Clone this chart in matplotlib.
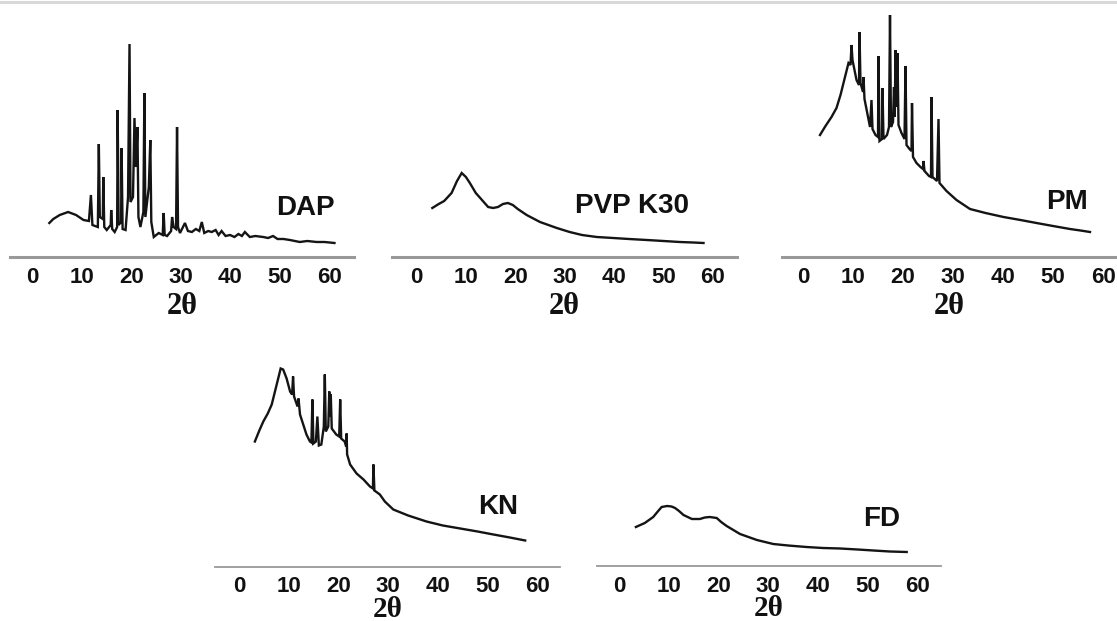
import matplotlib
matplotlib.use("Agg")
import matplotlib.pyplot as plt
from matplotlib.lines import Line2D

# ---------------- data (2θ in degrees, intensity in arbitrary units) ----------------
dap_2theta = [3.4, 4.2, 5.5, 7.2, 8.8, 10.3, 11.4, 11.8, 12.1, 13.2, 13.4, 13.6, 14.2, 14.3, 14.5,
              15.0, 15.8, 15.9, 16.1, 16.6, 17.1, 17.2, 17.4, 17.9, 18.0, 18.2, 18.8, 19.3, 19.6,
              19.8, 20.3, 20.6, 20.9, 21.2, 21.4, 21.8, 22.4, 22.6, 22.8, 23.5, 23.8, 24.0, 24.5,
              25.5, 26.3, 26.5, 26.7, 27.2, 28.0, 28.2, 28.5, 29.0, 29.2, 29.4, 29.8, 30.4, 30.8,
              31.4, 32.2, 33.0, 33.7, 34.2, 34.7, 35.5, 36.2, 37.0, 37.6, 38.2, 39.0, 39.9, 40.8,
              41.6, 42.3, 42.9, 43.9, 45.0, 46.6, 47.6, 48.6, 49.5, 50.7, 52.0, 54.0, 55.5, 57.4,
              59.0, 61.0]
dap_intensity = [34, 38, 42, 45, 42, 37, 36, 62, 32, 30, 113, 40, 38, 80, 30,
                 27, 32, 47, 28, 25, 30, 147, 32, 35, 109, 28, 27, 60, 213,
                 55, 60, 139, 90, 130, 40, 30, 45, 164, 40, 70, 117, 35, 20,
                 24, 22, 44, 22, 21, 26, 40, 30, 28, 130, 30, 24, 30, 34,
                 26, 25, 28, 26, 35, 24, 26, 25, 27, 22, 26, 21, 22, 20,
                 23, 21, 25, 20, 21, 20, 19, 21, 18, 18, 17, 15, 16, 15,
                 15, 14]

pvp_2theta = [3.2, 4.5, 5.6, 7.1, 8.2, 9.15, 10.0, 10.8, 12.0, 12.9, 14.5, 15.5, 16.5, 17.5, 18.5,
              19.5, 20.5, 22.3, 25.0, 28.4, 31.0, 33.5, 36.5, 39.8, 43.0, 46.6, 50.0, 53.3, 56.0,
              58.1]
pvp_intensity = [49, 53, 56, 64, 76, 84, 80, 74, 64, 59, 50, 49, 50, 53, 54,
                 52, 48, 42, 35, 29, 25, 22, 20, 19, 18, 17, 16, 15, 14.5,
                 14]

pm_2theta = [3.4, 4.5, 5.7, 6.7, 7.5, 8.1, 9.1, 9.5, 9.7, 9.9, 10.7, 11.2, 11.3, 11.5, 12.0,
             12.1, 12.3, 13.4, 13.7, 13.9, 14.5, 15.0, 15.1, 15.3, 15.8, 15.9, 16.1, 16.8, 17.2,
             17.4, 17.6, 18.0, 18.2, 18.35, 18.5, 18.7, 18.9, 19.1, 19.7, 20.3, 20.5, 20.7, 21.3,
             21.7, 21.8, 22.0, 22.7, 23.5, 24.0, 24.1, 24.3, 25.2, 25.6, 25.7, 25.9, 26.8, 27.1,
             27.3, 28.0, 28.7, 30.7, 33.4, 36.5, 40.1, 43.5, 46.7, 50.0, 53.4, 55.5, 57.4]
pm_intensity = [122, 131, 140, 149, 162, 174, 194, 192, 212, 197, 177, 172, 225, 174, 165,
                180, 158, 130, 157, 128, 122, 120, 201, 116, 118, 169, 118, 122, 130,
                242, 130, 135, 170, 140, 207, 150, 204, 132, 124, 118, 191, 112, 108,
                106, 154, 100, 94, 90, 88, 96, 86, 81, 80, 160, 80, 76, 138,
                74, 70, 66, 57, 48, 44, 40, 37, 34, 31, 28, 26.5, 25]

kn_2theta = [3.1, 4.0, 4.8, 5.7, 6.5, 7.5, 8.3, 8.8, 9.5, 10.2, 10.6, 10.8, 11.0, 11.7, 11.9,
             12.2, 13.5, 14.2, 14.5, 14.7, 14.9, 15.4, 15.7, 16.0, 16.5, 17.0, 17.2, 17.4, 17.9,
             18.1, 18.25, 18.4, 18.6, 19.5, 20.1, 20.3, 20.5, 21.2, 21.5, 21.6, 21.7, 22.3, 23.6,
             25.0, 26.3, 26.9, 27.0, 27.2, 28.3, 29.3, 31.0, 34.0, 37.7, 41.0, 44.5, 48.0, 51.2,
             54.5, 57.6]
kn_intensity = [125, 136, 145, 153, 162, 182, 198, 197, 188, 175, 172, 190, 170, 160, 168,
                152, 132, 125, 124, 167, 123, 125, 150, 121, 122, 140, 192, 135, 140,
                175, 150, 172, 138, 132, 130, 167, 128, 125, 120, 133, 112, 102, 93,
                87, 80, 78, 102, 76, 72, 65, 57, 51, 45, 41, 38, 35, 32,
                29, 26]

fd_2theta = [3.3, 5.1, 6.8, 7.8, 8.5, 9.6, 10.5, 11.2, 12.0, 12.9, 14.6, 16.2, 17.2, 18.2, 19.6,
             20.5, 21.6, 24.3, 27.7, 31.0, 34.0, 37.7, 41.0, 44.5, 48.0, 51.2, 54.5, 57.9]
fd_intensity = [39, 43, 49, 55, 59, 60, 59.5, 58, 55, 51, 47, 47, 48.5, 49, 48,
                44, 40, 32, 26, 22, 20.5, 19, 18, 17.5, 16.5, 15.5, 14.5, 14]

sample_names = ["DAP", "PVP K30", "PM", "KN", "FD"]
tick_values = [0, 10, 20, 30, 40, 50, 60]
x_label = "2θ"

# ---------------- layout (pixels) ----------------
W, H = 1117, 621
fig = plt.figure(figsize=(W / 100, H / 100), dpi=100)
fig.patch.set_facecolor("white")

# top grey rule
fig.add_artist(Line2D([0, 1], [1 - 2 / H, 1 - 2 / H], color="#d8d8d8", lw=2.2,
                      transform=fig.transFigure))

# (left px, right px, axis y px, x px of 0, px per degree, top px, spine lw, label pos, labelpad, label size)
panels = [
    (dap_2theta, dap_intensity, 10, 354, 257, 32.5, 4.95, 20, 2.2, (305, 208), 3, 22),
    (pvp_2theta, pvp_intensity, 392, 737, 257, 416.5, 4.94, 20, 2.2, (632, 206), 3, 22),
    (pm_2theta, pm_intensity, 782, 1117, 257, 803, 5.0, 10, 2.2, (1067, 202), 3, 22),
    (kn_2theta, kn_intensity, 215, 560, 566.5, 239.5, 4.96, 330, 1.3, (498, 507), -1, 21),
    (fd_2theta, fd_intensity, 597, 941, 566, 619.5, 4.96, 330, 1.3, (882, 519), -1, 21),
]

for (xs, ys, left, right, axy, x0, s, top, slw, lab, lpad, lsize), name in zip(panels, sample_names):
    h = axy - top
    ax = fig.add_axes([left / W, (H - axy) / H, (right - left) / W, h / H])
    ax.plot(xs, ys, color="#141414", lw=1.7, solid_joinstyle="miter")
    ax.set_xlim((left - x0) / s, (right - x0) / s)
    ax.set_ylim(0, h)
    for sp in ("top", "left", "right"):
        ax.spines[sp].set_visible(False)
    ax.spines["bottom"].set_color("#999999")
    ax.spines["bottom"].set_linewidth(slw)
    ax.set_yticks([])
    ax.set_xticks(tick_values)
    ax.set_xticklabels([str(t) for t in tick_values])
    ax.tick_params(axis="x", length=0, pad=7, labelsize=16, labelcolor="#111111")
    for t in ax.get_xticklabels():
        t.set_fontfamily("Liberation Sans")
        t.set_fontweight("bold")
    ax.set_xlabel(x_label, fontsize=lsize, fontweight="bold", family="Liberation Serif",
                  labelpad=lpad, color="#111111")
    ax.patch.set_alpha(0)
    fig.text(lab[0] / W, 1 - lab[1] / H, name, ha="center", va="center", fontsize=20,
             fontweight="bold", family="Liberation Sans", color="#111111")

fig.savefig("out.png", dpi=100)
